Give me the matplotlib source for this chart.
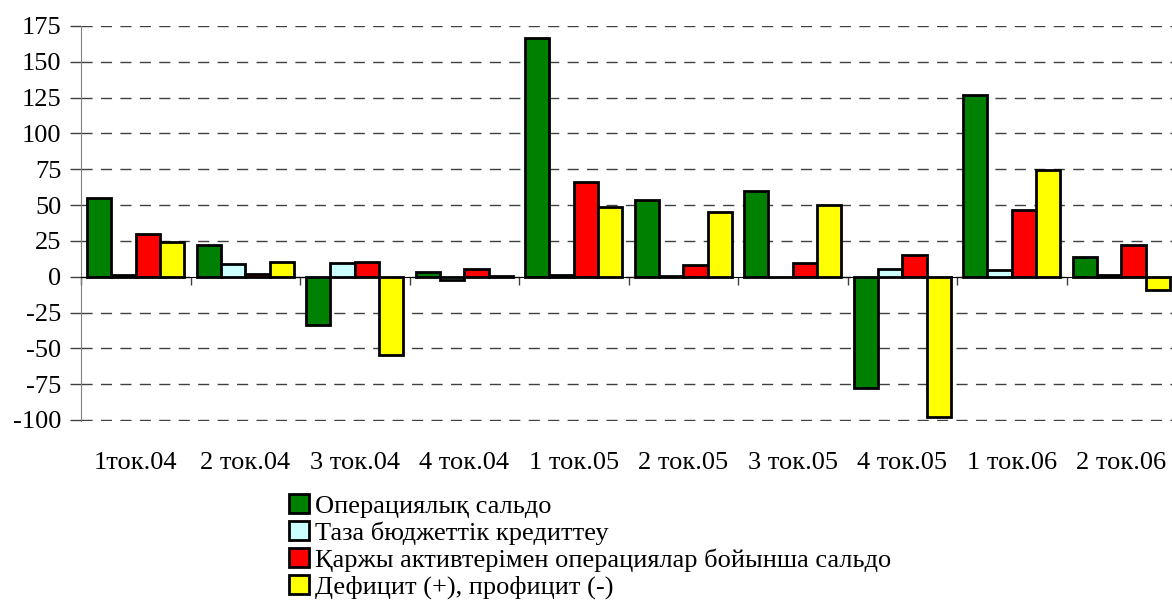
import numpy as np
import matplotlib
matplotlib.use('Agg')
import matplotlib.pyplot as plt

plt.rcParams['font.family'] = ['Liberation Serif', 'DejaVu Serif']
plt.rcParams['axes.unicode_minus'] = False

# data
quarters = ['1ток.04', '2 ток.04', '3 ток.04', '4 ток.04', '1 ток.05',
            '2 ток.05', '3 ток.05', '4 ток.05', '1 ток.06', '2 ток.06']
series_names = ['Операциялық сальдо',
                'Таза бюджеттік кредиттеу',
                'Қаржы активтерімен операциялар бойынша сальдо',
                'Дефицит (+), профицит (-)']
operating = [55, 22, -34, 3.3, 166.5, 53.5, 59.7, -78, 126.5, 13.7]
net_lending = [1, 9, 9.5, -2.6, 1.3, 0.3, 0, 5.3, 5, 1]
fin_assets = [30, 2, 10.2, 5.6, 65.8, 8.1, 9.5, 15, 46.7, 21.8]
deficit = [24, 10.5, -54.5, 0.4, 49, 45, 50.2, -98, 74.6, -9.3]
colors = ['#008000', '#CCFFFF', '#FF0000', '#FFFF00']

fig = plt.figure(figsize=(11.72, 6.04), dpi=100)
ax = fig.add_axes([81 / 1172, 1 - 420.7 / 604, 1095 / 1172, 394.7 / 604])

x = np.arange(len(quarters))
w = 1 / 4.5
for k, (vals, name, c) in enumerate(zip([operating, net_lending, fin_assets, deficit],
                                        series_names, colors)):
    ax.bar(x + (k - 1.5) * w, vals, width=w, color=c, edgecolor='black',
           linewidth=2, label=name, zorder=3)

ax.set_xlim(-0.5, len(quarters) - 0.5)
ax.set_ylim(-100.5, 175)
ax.set_yticks(np.arange(-100, 176, 25))
ax.yaxis.grid(True, linestyle=(0, (8, 6)), color='#404040', linewidth=1, zorder=0)
ax.tick_params(axis='y', direction='out', length=8, width=1, labelsize=19,
               color='#404040', pad=6)

for s in ['top', 'right']:
    ax.spines[s].set_visible(False)
ax.spines['left'].set_color('#808080')
ax.spines['bottom'].set_position(('data', 0))
ax.spines['bottom'].set_color('black')
ax.spines['bottom'].set_zorder(4)

# boundary ticks at zero line, labels below the plot
ax.set_xticks(np.arange(len(quarters) + 1) - 0.5)
ax.set_xticklabels([])
ax.tick_params(axis='x', which='major', direction='out', length=6, width=1, color='#404040')
ax.set_xticks(x, quarters, minor=True)
ax.tick_params(axis='x', which='minor', length=0, labelsize=19, pad=175 * 72 / 100)

fig.legend(loc='upper left', bbox_to_anchor=(289 / 1172, 1 - 494 / 604), frameon=False,
           fontsize=19, handlelength=0.75, handleheight=0.75, handletextpad=0.25,
           labelspacing=0.12, borderaxespad=0, borderpad=0)

fig.savefig('out.png', dpi=100)
